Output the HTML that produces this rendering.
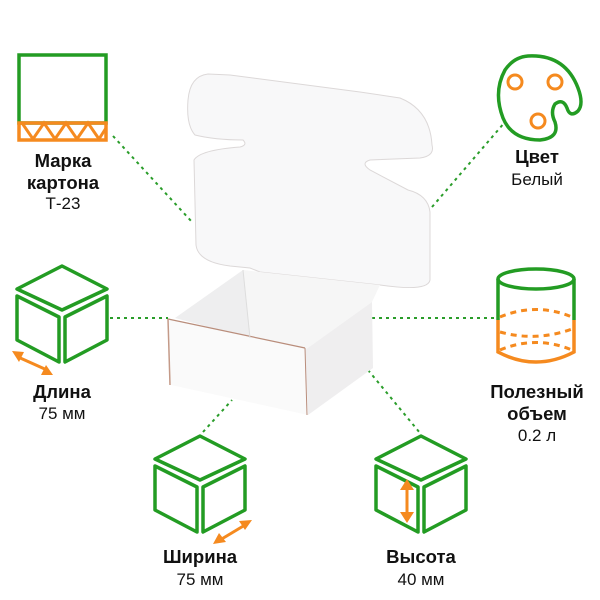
<!DOCTYPE html>
<html><head><meta charset="utf-8"><style>
html,body{margin:0;padding:0;background:#fff}
svg{display:block}
text{font-family:"Liberation Sans",Arial,sans-serif;fill:#111}
.b{font-weight:bold;font-size:18.5px}
.r{font-size:17px}
</style></head><body>
<svg width="600" height="600" viewBox="0 0 600 600" xmlns="http://www.w3.org/2000/svg">
<g stroke="#2a9d2a" stroke-width="2" stroke-dasharray="3,4" fill="none">
<line x1="113" y1="136" x2="192" y2="222"/>
<line x1="432" y1="207" x2="505" y2="122"/>
<line x1="110" y1="318" x2="168" y2="318"/>
<line x1="372" y1="318" x2="496" y2="318"/>
<line x1="203" y1="432" x2="232" y2="400"/>
<line x1="368" y1="370" x2="420" y2="433"/>
</g>
<!-- box lid -->
<path d="M208,74 Q190,76 188,100 Q186,125 195,135 Q215,140 243,140 Q248,145 240,147 Q200,150 194,160 L196,245 Q198,262 230,266 L250,268 L260,272 L380,285 Q428,292 430,280 L430,212 Q428,195 408,190 L370,170 Q360,163 370,160 L420,158 Q435,156 432,145 Q430,110 400,98 L360,92 L230,75 Z" fill="#f8f8f9" stroke="#dcd8d8" stroke-width="1"/>
<path d="M243,270 L260,272 L380,285 L372,302 L305,350 L250,338 Z" fill="#f6f6f6"/>
<path d="M243,270 L250,338 L175,318 Z" fill="#eeeeef"/>
<path d="M305,350 L372,302 L373,368 L308,415 Z" fill="#efeeef"/>
<path d="M168,319 L305,348 L308,415 L171,385 Z" fill="#fafafa"/>
<path d="M168,319 L305,348" stroke="#b98d7b" stroke-width="1.2"/>
<path d="M305,348 L307,415" stroke="#b98d7b" stroke-width="1"/>
<path d="M168,319 L170,385" stroke="#c49a88" stroke-width="1.5"/>
<path d="M250,338 L243,270" stroke="#ddd" stroke-width="1"/>

<rect x="19" y="55" width="87" height="68" fill="none" stroke="#239c23" stroke-width="3.5"/>
<rect x="19" y="123" width="87" height="17" fill="none" stroke="#f58a1f" stroke-width="3.5"/>
<path d="M22,123 L33,139 L44,123 L55,139 L66,123 L77,139 L88,123 L99,139 L106,128" fill="none" stroke="#f58a1f" stroke-width="3"/>
<text class="b" x="63" y="167" text-anchor="middle">Марка</text>
<text class="b" x="63" y="189" text-anchor="middle">картона</text>
<text class="r" x="63" y="209" text-anchor="middle">Т-23</text>

<path d="M528,56 Q565,54 578,88 Q584,104 578,111 Q570,118 567,108 Q563,98 555,104 Q550,112 555,122 Q560,138 540,140 Q512,140 503,118 Q493,92 505,70 Q514,57 528,56 Z" fill="none" stroke="#239c23" stroke-width="3.5"/>
<g fill="none" stroke="#f58a1f" stroke-width="3">
<circle cx="515" cy="82" r="7"/><circle cx="555" cy="82" r="7"/><circle cx="538" cy="121" r="7"/>
</g>
<text class="b" x="537" y="163" text-anchor="middle">Цвет</text>
<text class="r" x="537" y="185" text-anchor="middle">Белый</text>

<defs>
<g id="cube" fill="none" stroke="#239c23" stroke-width="3.5" stroke-linejoin="round">
<path d="M45,0 L90,23 L45,44 L0,23 Z"/>
<path d="M0,30 L42,51 L42,96 L0,74 Z"/>
<path d="M48,51 L90,30 L90,74 L48,96 Z"/>
</g>
</defs>
<use href="#cube" x="17" y="266"/>
<path d="M18,357 L47,370" stroke="#f58a1f" stroke-width="3"/>
<path d="M12,351 L24,352 L19,362 Z M53,375 L41,375 L46,365 Z" fill="#f58a1f"/>
<text class="b" x="62" y="398" text-anchor="middle">Длина</text>
<text class="r" x="62" y="419" text-anchor="middle">75 мм</text>

<use href="#cube" x="155" y="436"/>
<path d="M220,540 L245,525" stroke="#f58a1f" stroke-width="3"/>
<path d="M213,544 L219,533 L226,542 Z M252,520 L239,521 L245,530 Z" fill="#f58a1f"/>
<text class="b" x="200" y="563" text-anchor="middle">Ширина</text>
<text class="r" x="200" y="585" text-anchor="middle">75 мм</text>

<use href="#cube" x="376" y="436"/>
<path d="M407,487 L407,515" stroke="#f58a1f" stroke-width="3"/>
<path d="M407,479 L400,490 L414,490 Z M407,523 L400,512 L414,512 Z" fill="#f58a1f"/>
<text class="b" x="421" y="563" text-anchor="middle">Высота</text>
<text class="r" x="421" y="585" text-anchor="middle">40 мм</text>

<ellipse cx="536" cy="279" rx="38" ry="10" fill="none" stroke="#239c23" stroke-width="3.5"/>
<path d="M498,279 L498,320 M574,279 L574,320" stroke="#239c23" stroke-width="3.5"/>
<path d="M498,320 L498,352 Q536,372 574,352 L574,320" fill="none" stroke="#f58a1f" stroke-width="3.5"/>
<g fill="none" stroke="#f58a1f" stroke-width="3" stroke-dasharray="6,5">
<path d="M500,317 Q536,302 572,317"/>
<path d="M500,332 Q536,342 572,329"/>
<path d="M500,350 Q536,335 572,350"/>
</g>
<text class="b" x="537" y="398" text-anchor="middle">Полезный</text>
<text class="b" x="537" y="420" text-anchor="middle">объем</text>
<text class="r" x="537" y="441" text-anchor="middle">0.2 л</text>
</svg>
</body></html>
